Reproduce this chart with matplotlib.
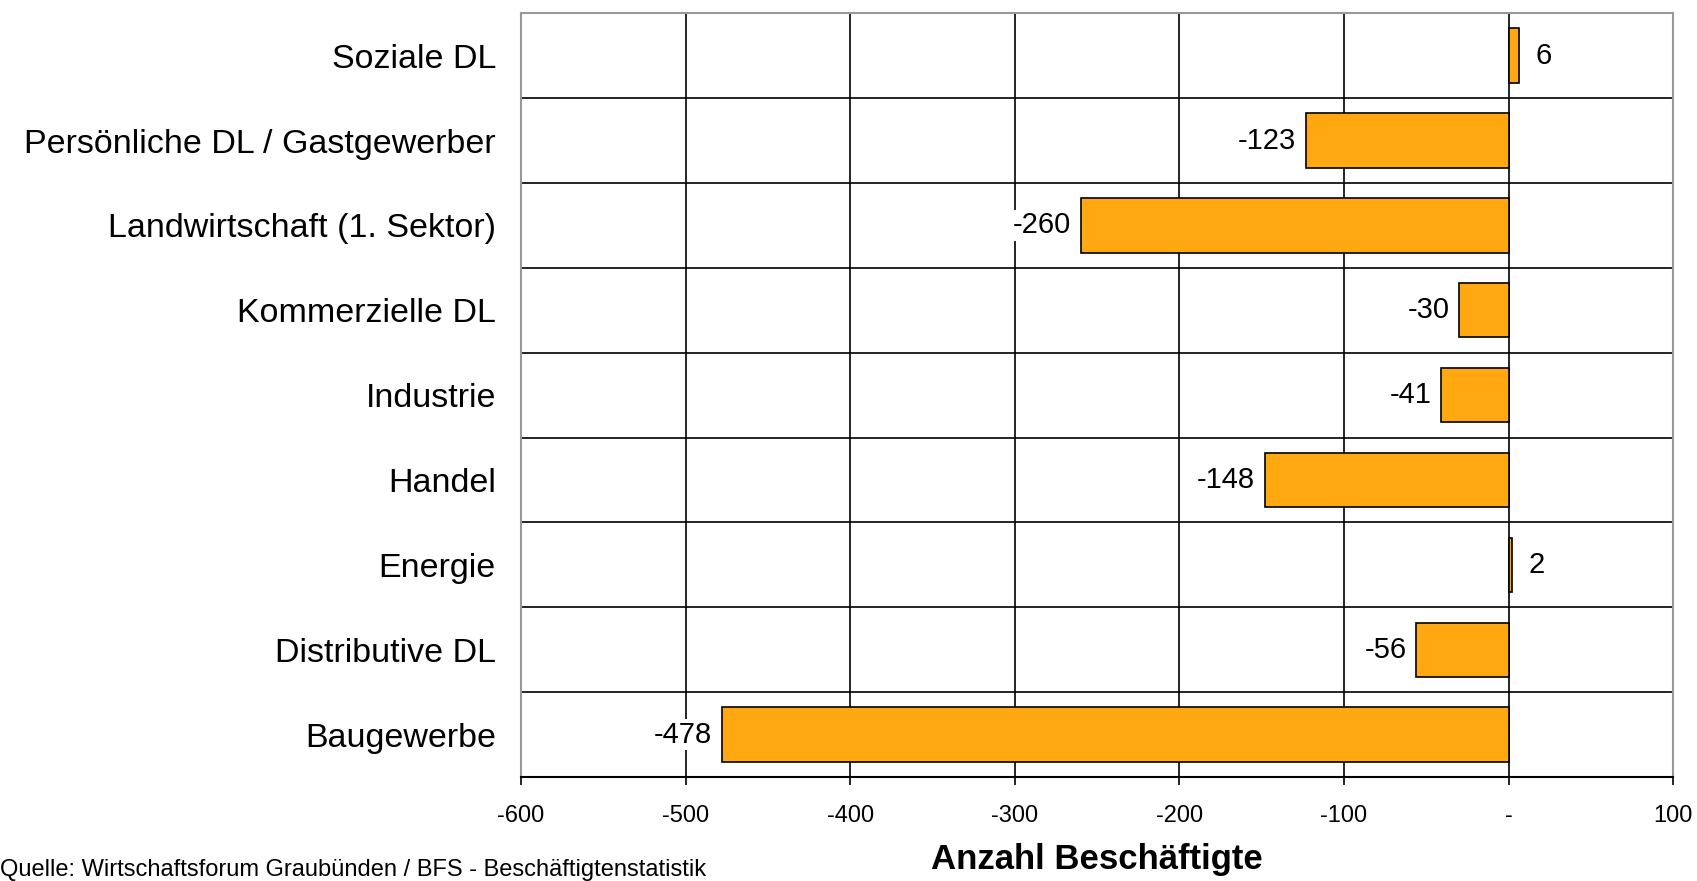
import numpy as np
import matplotlib.pyplot as plt
from matplotlib.ticker import FuncFormatter

plt.rcParams['font.family'] = ['Liberation Sans', 'DejaVu Sans']

categories = ['Soziale DL', 'Persönliche DL / Gastgewerber', 'Landwirtschaft (1. Sektor)',
              'Kommerzielle DL', 'Industrie', 'Handel', 'Energie', 'Distributive DL', 'Baugewerbe']
values = [6, -123, -260, -30, -41, -148, 2, -56, -478]
x_ticks = [-600, -500, -400, -300, -200, -100, 0, 100]

bar_color = '#FFA811'

fig = plt.figure(figsize=(16.97, 8.81), dpi=100)
ax = fig.add_axes([0.307, 0.118, 0.679, 0.867])

n = len(categories)
y = np.arange(n)[::-1]
ax.barh(y, values, height=0.64, color=bar_color, edgecolor='black', linewidth=1.2, zorder=3)

ax.set_xlim(-600, 100)
ax.set_ylim(-0.5, n - 0.5)

# gridlines: vertical at ticks, horizontal between categories
for xv in x_ticks[1:-1]:
    ax.axvline(xv, color='black', linewidth=1.2, zorder=1)
for b in np.arange(n - 1) + 0.5:
    ax.axhline(b, color='black', linewidth=1.2, zorder=1)

ax.set_yticks(y)
ax.set_yticklabels(categories, fontsize=24.5)
ax.tick_params(axis='y', length=0, pad=18)

ax.set_xticks(x_ticks)
ax.xaxis.set_major_formatter(FuncFormatter(lambda v, p: '-' if v == 0 else f'{int(v)}'))
ax.tick_params(axis='x', direction='out', length=6, width=1.2, pad=14)
for lbl in ax.get_xticklabels():
    lbl.set_fontfamily(['Liberation Sans Narrow', 'Liberation Sans'])
    lbl.set_fontsize(17)

for s in ['top', 'right', 'left']:
    ax.spines[s].set_color('#999999')
    ax.spines[s].set_linewidth(1.5)
ax.spines['bottom'].set_color('black')
ax.spines['bottom'].set_linewidth(1.5)

for yi, v in zip(y, values):
    if v < 0:
        ax.annotate(str(v), (v, yi), xytext=(-7, 0), textcoords='offset points',
                    ha='right', va='center', fontsize=21, zorder=4,
                    bbox=dict(facecolor='white', edgecolor='none', pad=1))
    else:
        ax.annotate(str(v), (v, yi), xytext=(12, 0), textcoords='offset points',
                    ha='left', va='center', fontsize=21, zorder=4)

ax.set_xlabel('Anzahl Beschäftigte', fontsize=25, fontweight='bold', labelpad=12)

fig.text(0.0, 0.0, 'Quelle: Wirtschaftsforum Graubünden / BFS - Beschäftigtenstatistik',
         fontsize=17, ha='left', va='bottom')

fig.savefig('out.png', dpi=100)
